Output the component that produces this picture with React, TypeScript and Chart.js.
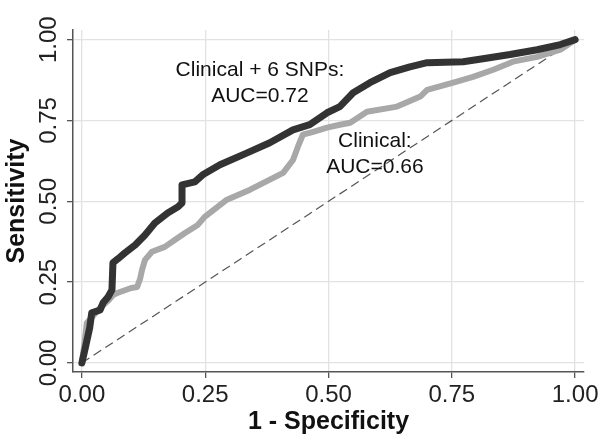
import React, { useEffect, useRef } from "react";
import { Chart, registerables } from "chart.js";

Chart.register(...registerables);

const tickValues = [0, 0.25, 0.5, 0.75, 1];

const snpX = [0, 0.006, 0.016, 0.02, 0.037, 0.043, 0.053, 0.061, 0.063, 0.073, 0.087, 0.108, 0.128, 0.148, 0.174, 0.195, 0.203, 0.203, 0.229, 0.245, 0.28, 0.335, 0.381, 0.428, 0.462, 0.497, 0.523, 0.55, 0.584, 0.625, 0.665, 0.7, 0.773, 0.813, 0.868, 0.923, 0.97, 1.0];
const snpY = [0, 0.04, 0.11, 0.155, 0.164, 0.186, 0.204, 0.226, 0.31, 0.322, 0.34, 0.365, 0.396, 0.433, 0.464, 0.483, 0.495, 0.551, 0.56, 0.582, 0.613, 0.65, 0.681, 0.721, 0.737, 0.774, 0.793, 0.836, 0.867, 0.898, 0.916, 0.929, 0.932, 0.941, 0.954, 0.969, 0.985, 1.0];

const clinX = [0, 0.006, 0.01, 0.025, 0.04, 0.055, 0.063, 0.073, 0.1, 0.112, 0.118, 0.122, 0.128, 0.142, 0.168, 0.189, 0.209, 0.235, 0.249, 0.294, 0.341, 0.381, 0.408, 0.428, 0.438, 0.448, 0.469, 0.497, 0.523, 0.544, 0.578, 0.639, 0.686, 0.7, 0.753, 0.793, 0.834, 0.874, 0.923, 0.97, 1.0];
const clinY = [0, 0.07, 0.124, 0.15, 0.175, 0.195, 0.21, 0.217, 0.232, 0.235, 0.26, 0.288, 0.319, 0.344, 0.359, 0.381, 0.402, 0.427, 0.452, 0.505, 0.536, 0.567, 0.588, 0.628, 0.669, 0.706, 0.715, 0.728, 0.737, 0.743, 0.777, 0.793, 0.824, 0.845, 0.867, 0.885, 0.907, 0.932, 0.947, 0.969, 1.0];

const diagX = [0, 1];
const diagY = [0, 1];

const noteSnp = ["Clinical + 6 SNPs:", "AUC=0.72"];
const noteClin = ["Clinical:", "AUC=0.66"];

const FONT = "'Liberation Sans', Arial, sans-serif";

function pts(xs: number[], ys: number[]) {
  return xs.map((x, i) => ({ x, y: ys[i] }));
}

const notesPlugin = {
  id: "notes",
  afterDatasetsDraw(chart: any) {
    const { ctx, scales } = chart;
    const xs = scales.x;
    const ys = scales.y;
    const draw = (lines: string[], vx: number, vy: number) => {
      ctx.save();
      ctx.font = `21px ${FONT}`;
      ctx.fillStyle = "#111";
      ctx.textAlign = "center";
      ctx.textBaseline = "middle";
      const px = xs.getPixelForValue(vx);
      const py = ys.getPixelForValue(vy);
      lines.forEach((l, i) => ctx.fillText(l, px, py + i * 26));
      ctx.restore();
    };
    draw(noteSnp, 0.361, 0.907);
    draw(noteClin, 0.594, 0.687);
  },
};

export default function App() {
  const ref = useRef<HTMLCanvasElement>(null);
  useEffect(() => {
    const chart = new Chart(ref.current!, {
      type: "line",
      data: {
        datasets: [
          {
            label: "Clinical + 6 SNPs",
            data: pts(snpX, snpY),
            borderColor: "#333333",
            borderWidth: 7,
            pointRadius: 0,
            tension: 0,
            borderJoinStyle: "round",
            borderCapStyle: "round",
            order: 1,
          },
          {
            label: "Clinical",
            data: pts(clinX, clinY),
            borderColor: "#a8a8a8",
            borderWidth: 6,
            pointRadius: 0,
            tension: 0,
            borderJoinStyle: "round",
            borderCapStyle: "round",
            order: 2,
          },
          {
            label: "Reference",
            data: pts(diagX, diagY),
            borderColor: "#555555",
            borderWidth: 1.2,
            borderDash: [9, 5],
            pointRadius: 0,
            order: 3,
          },
        ],
      },
      options: {
        responsive: false,
        animation: false,
        parsing: false as any,
        layout: { padding: { top: 30, right: 25, left: 0, bottom: 0 } },
        plugins: { legend: { display: false }, tooltip: { enabled: false } },
        scales: {
          x: {
            type: "linear",
            min: -0.018,
            max: 1.018,
            afterBuildTicks: (s: any) => {
              s.ticks = tickValues.map((v) => ({ value: v }));
            },
            afterFit: (s: any) => {
              s.height = 71;
            },
            ticks: {
              callback: (v: any) => Number(v).toFixed(2),
              font: { size: 24, family: FONT },
              color: "#222",
              padding: 3,
              maxRotation: 0,
            },
            grid: { color: "#e2e2e2", lineWidth: 1.3, tickColor: "#555", tickLength: 6 },
            border: { color: "#555", width: 1.5 },
            title: {
              display: true,
              text: "1 - Specificity",
              font: { size: 25, weight: "bold", family: FONT },
              color: "#111",
              padding: { top: 0, bottom: 6 },
            },
          },
          y: {
            type: "linear",
            min: -0.028,
            max: 1.03,
            afterBuildTicks: (s: any) => {
              s.ticks = tickValues.map((v) => ({ value: v }));
            },
            afterFit: (s: any) => {
              s.width = 73;
            },
            ticks: {
              callback: (v: any) => Number(v).toFixed(2),
              font: { size: 24, family: FONT },
              color: "#222",
              minRotation: 90,
              maxRotation: 90,
              crossAlign: "center",
              padding: -6,
            },
            grid: { color: "#e2e2e2", lineWidth: 1.3, tickColor: "#555", tickLength: 6 },
            border: { color: "#555", width: 1.5 },
            title: {
              display: true,
              text: "Sensitivity",
              font: { size: 25, weight: "bold", family: FONT },
              color: "#111",
              padding: { top: 2, bottom: 0 },
            },
          },
        },
      },
      plugins: [notesPlugin],
    } as any);
    return () => chart.destroy();
  }, []);
  return (
    <div style={{ position: "absolute", left: 0, top: 0, width: 609, height: 443, background: "#fff" }}>
      <canvas ref={ref} width={609} height={443} style={{ width: 609, height: 443 }} />
    </div>
  );
}
